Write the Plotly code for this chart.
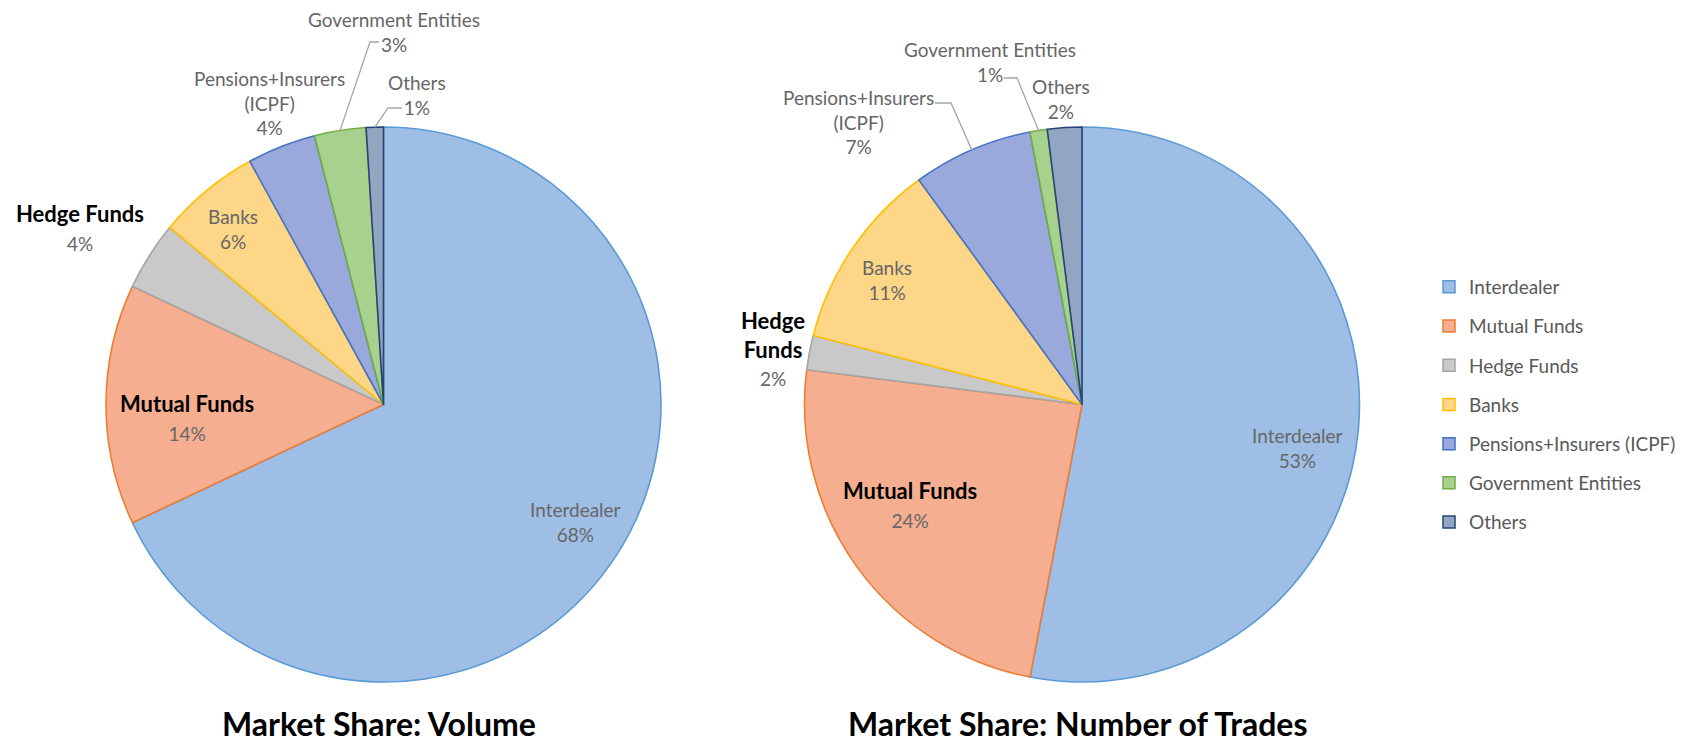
import math
import plotly.graph_objects as go

# ---------------- data ----------------
categories = ["Interdealer", "Mutual Funds", "Hedge Funds", "Banks",
              "Pensions+Insurers (ICPF)", "Government Entities", "Others"]
volume_share = [68, 14, 4, 6, 4, 3, 1]
trades_share = [53, 24, 2, 11, 7, 1, 2]
volume_label_names = ["Interdealer", "<b>Mutual Funds</b>", "<b>Hedge Funds</b>", "Banks",
                      "Pensions+Insurers<br>(ICPF)", "Government Entities", "Others"]
trades_label_names = ["Interdealer", "<b>Mutual Funds</b>", "<b>Hedge<br>Funds</b>", "Banks",
                      "Pensions+Insurers<br>(ICPF)", "Government Entities", "Others"]
chart_titles = ["Market Share: Volume", "Market Share: Number of Trades"]

# ---------------- styles ----------------
W, H = 1682, 744
fills = ["#9FBEE6", "#F5AF90", "#C9C9C9", "#FDD688", "#99A9DC", "#A9D18E", "#93A6C1"]
edges = ["#5B9BD5", "#ED7D31", "#A5A5A5", "#FFC000", "#4472C4", "#70AD47", "#264478"]
FONT = "Lato"
GRAY = "#666666"
LEADER = "#A6A6A6"

pie_boxes = [  # pixel boxes (left, right, top, bottom)
    (106, 661, 127, 682),
    (804, 1360, 127, 682),
]

def px2paper(x, y):
    return x / W, 1 - y / H

fig = go.Figure()
for values, box in zip([volume_share, trades_share], pie_boxes):
    l, r, t, b = box
    fig.add_trace(go.Pie(
        labels=categories, values=values, sort=False, direction="clockwise",
        rotation=0, textinfo="none", hoverinfo="label+percent",
        marker=dict(colors=fills, line=dict(color=edges, width=1.6)),
        domain=dict(x=[l / W, r / W], y=[1 - b / H, 1 - t / H]),
        showlegend=False,
    ))

# legend entries (dummy traces so the spacing matches)
for i, (name, f, e) in enumerate(zip(categories, fills, edges)):
    fig.add_trace(go.Scatter(
        x=[None], y=[None], mode="markers", name=name, legendgroup=f"g{i}",
        marker=dict(symbol="square", size=12, color=f, line=dict(color=e, width=1.5)),
        showlegend=True,
    ))

# ---------------- labels ----------------
label_pos = [
    [(575, 522), (187, 418), (80, 227), (233, 229), (269, 103), (394, 32), (417, 95)],
    [(1297, 448), (910, 505), (773, 348), (887, 280), (858, 122), (990, 62), (1061, 99)],
]
annotations = []
for values, names, pos in zip([volume_share, trades_share],
                              [volume_label_names, trades_label_names], label_pos):
    for v, n, (x, y) in zip(values, names, pos):
        bold = n.startswith("<b>")
        if bold:
            txt = f"<span style='color:#000000'>{n}</span><br><span style='font-size:19px'>{v}%</span>"
            size = 22
        else:
            txt = f"{n}<br>{v}%"
            size = 19
        xp, yp = px2paper(x, y)
        annotations.append(dict(x=xp, y=yp, xref="paper", yref="paper", text=txt,
                                showarrow=False, xanchor="center", yanchor="middle",
                                align="center", font=dict(family=FONT, size=size, color=GRAY)))

title_x = [379, 1077]
for t, x in zip(chart_titles, title_x):
    annotations.append(dict(x=x / W, y=0, xref="paper", yref="paper", text=f"<b>{t}</b>",
                            showarrow=False, xanchor="center", yanchor="bottom", yshift=-1,
                            font=dict(family=FONT, size=32, color="#000000")))

# ---------------- leader lines (end point from slice angle) ----------------
# (pie index, category index, text start, elbow)
leaders = [
    (0, 5, (379, 42), (370, 42)),
    (0, 6, (402, 108), (388, 108)),
    (1, 4, (935, 103), (951, 103)),
    (1, 5, (1004, 78), (1017, 78)),
]
shapes = []
series = [volume_share, trades_share]
for pi, ci, p0, p1 in leaders:
    vals = series[pi]
    tot = sum(vals)
    mid = (sum(vals[:ci]) + vals[ci] / 2) / tot * 2 * math.pi
    l, r, t, b = pie_boxes[pi]
    cx, cy = (l + r) / 2, (t + b) / 2
    rad = min(r - l, b - t) / 2
    ex, ey = cx + rad * math.sin(mid), cy - rad * math.cos(mid)
    pts = [px2paper(*p0), px2paper(*p1), px2paper(ex, ey)]
    path = "M {} {} L {} {} L {} {}".format(*[c for p in pts for c in p])
    shapes.append(dict(type="path", xref="paper", yref="paper", path=path,
                       line=dict(color=LEADER, width=1.3)))

lx, ly = px2paper(1429, 268)
fig.update_layout(
    width=W, height=H, margin=dict(l=0, r=0, t=0, b=0),
    paper_bgcolor="white", plot_bgcolor="white",
    xaxis=dict(visible=False), yaxis=dict(visible=False),
    annotations=annotations, shapes=shapes,
    legend=dict(x=lx, y=ly, xanchor="left", yanchor="top", tracegroupgap=11.5,
                font=dict(family=FONT, size=19, color="#595959"),
                bgcolor="rgba(0,0,0,0)", itemclick=False, itemdoubleclick=False),
    showlegend=True,
)
fig.write_html("out.html")
